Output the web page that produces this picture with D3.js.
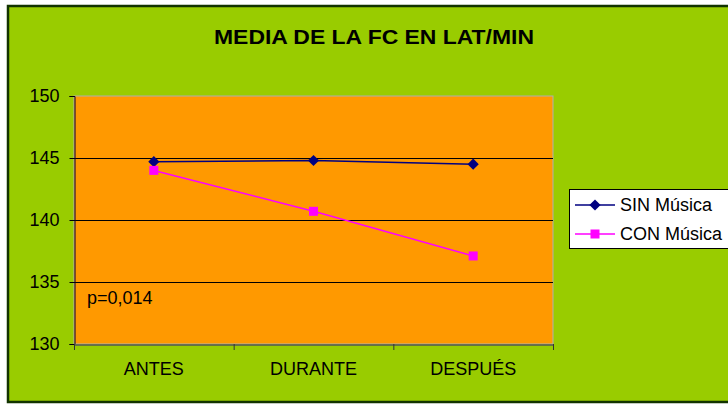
<!DOCTYPE html>
<html>
<head>
<meta charset="utf-8">
<script src="https://cdn.jsdelivr.net/npm/d3@7"></script>
<style>
  body { margin: 0; background: #fff; }
  svg { display: block; font-family: "Liberation Sans", Arial, sans-serif; }
</style>
</head>
<body>
<div id="chart"></div>
<script>
// Data
const categories = ["ANTES", "DURANTE", "DESPUÉS"];
const sinMusica = [144.7, 144.8, 144.5];
const conMusica = [144.0, 140.7, 137.1];
const yTicks = [130, 135, 140, 145, 150];
const seriesNames = ["SIN Música", "CON Música"];

const W = 728, H = 405;
const plot = {left: 74, right: 553, top: 96, bottom: 344};

const svg = d3.select("#chart").append("svg")
    .attr("width", W)
    .attr("height", H);

// outer frame
svg.append("rect")
    .attr("x", 8).attr("y", 6)
    .attr("width", W + 10).attr("height", 396)
    .attr("fill", "#99cc00")
    .attr("stroke", "#123300")
    .attr("stroke-width", 2.5);

// title
svg.append("text")
    .attr("x", 374).attr("y", 44)
    .attr("text-anchor", "middle")
    .style("font-size", "21px")
    .style("font-weight", "bold")
    .attr("textLength", 320)
    .attr("lengthAdjust", "spacingAndGlyphs")
    .text("MEDIA DE LA FC EN LAT/MIN");

const x = d3.scaleBand()
    .domain(categories)
    .range([plot.left, plot.right]);

const y = d3.scaleLinear()
    .domain([130, 150])
    .range([plot.bottom, plot.top]);

// plot area
svg.append("rect")
    .attr("x", plot.left).attr("y", plot.top)
    .attr("width", plot.right - plot.left)
    .attr("height", plot.bottom - plot.top)
    .attr("fill", "#ff9900")
    .attr("stroke", "#b0b0b0")
    .attr("stroke-width", 1);

// gridlines
svg.selectAll("line.grid")
    .data(yTicks.filter(d => d > 130 && d < 150))
    .enter().append("line")
    .attr("class", "grid")
    .attr("x1", plot.left).attr("x2", plot.right)
    .attr("y1", d => y(d) + 0.5).attr("y2", d => y(d) + 0.5)
    .attr("stroke", "#000")
    .attr("stroke-width", 1);

// y axis
const yAxis = svg.append("g")
    .attr("transform", `translate(${plot.left + 0.5},0)`)
    .call(d3.axisLeft(y).tickValues(yTicks).tickSize(5).tickPadding(10));
yAxis.select(".domain").attr("stroke", "#000033");
yAxis.selectAll(".tick line").attr("stroke", "#000");
yAxis.selectAll("text")
    .style("font-size", "18px")
    .style("font-family", "Liberation Sans, Arial, sans-serif")
    .attr("fill", "#000");

// x axis
const xAxis = svg.append("g")
    .attr("transform", `translate(0,${plot.bottom + 0.5})`)
    .call(d3.axisBottom(x).tickSize(0).tickPadding(18));
xAxis.select(".domain").attr("stroke", "#555").attr("stroke-width", 1.5);
xAxis.selectAll("text")
    .style("font-size", "18px")
    .style("font-family", "Liberation Sans, Arial, sans-serif")
    .attr("fill", "#000");
// x ticks at category boundaries
svg.selectAll("line.xtick")
    .data(categories.map(c => x(c)).concat([plot.right]))
    .enter().append("line")
    .attr("class", "xtick")
    .attr("x1", d => d + 0.5).attr("x2", d => d + 0.5)
    .attr("y1", plot.bottom).attr("y2", plot.bottom + 6)
    .attr("stroke", "#333");

const cx = c => x(c) + x.bandwidth() / 2;
const line = d3.line().x(d => cx(d.c)).y(d => y(d.v));

const sinData = categories.map((c, i) => ({c, v: sinMusica[i]}));
const conData = categories.map((c, i) => ({c, v: conMusica[i]}));

svg.append("path")
    .datum(sinData)
    .attr("fill", "none")
    .attr("stroke", "#000080")
    .attr("stroke-width", 1.5)
    .attr("d", line);

svg.append("path")
    .datum(conData)
    .attr("fill", "none")
    .attr("stroke", "#ff00ff")
    .attr("stroke-width", 1.5)
    .attr("d", line);

const diamond = d3.symbol().type(d3.symbolDiamond2).size(80);
svg.selectAll("path.sin")
    .data(sinData)
    .enter().append("path")
    .attr("class", "sin")
    .attr("d", diamond)
    .attr("transform", d => `translate(${cx(d.c)},${y(d.v)})`)
    .attr("fill", "#000080");

svg.selectAll("rect.con")
    .data(conData)
    .enter().append("rect")
    .attr("class", "con")
    .attr("x", d => cx(d.c) - 4.5)
    .attr("y", d => y(d.v) - 4.5)
    .attr("width", 9).attr("height", 9)
    .attr("fill", "#ff00ff");

// p value annotation
svg.append("text")
    .attr("x", 87).attr("y", 304)
    .style("font-size", "18px")
    .text("p=0,014");

// legend
const lg = svg.append("g");
lg.append("rect")
    .attr("x", 569.5).attr("y", 189.5)
    .attr("width", 200).attr("height", 59)
    .attr("fill", "#fff")
    .attr("stroke", "#000")
    .attr("stroke-width", 1);

const legendColors = ["#000080", "#ff00ff"];
seriesNames.forEach((name, i) => {
    const ly = 205 + i * 29;
    lg.append("line")
        .attr("x1", 575).attr("x2", 615)
        .attr("y1", ly).attr("y2", ly)
        .attr("stroke", legendColors[i])
        .attr("stroke-width", 1.5);
    if (i === 0) {
        lg.append("path")
            .attr("d", diamond)
            .attr("transform", `translate(595,${ly})`)
            .attr("fill", legendColors[i]);
    } else {
        lg.append("rect")
            .attr("x", 590.5).attr("y", ly - 4.5)
            .attr("width", 9).attr("height", 9)
            .attr("fill", legendColors[i]);
    }
    lg.append("text")
        .attr("x", 620).attr("y", ly + 6)
        .style("font-size", "18px")
        .text(name);
});
</script>
</body>
</html>
